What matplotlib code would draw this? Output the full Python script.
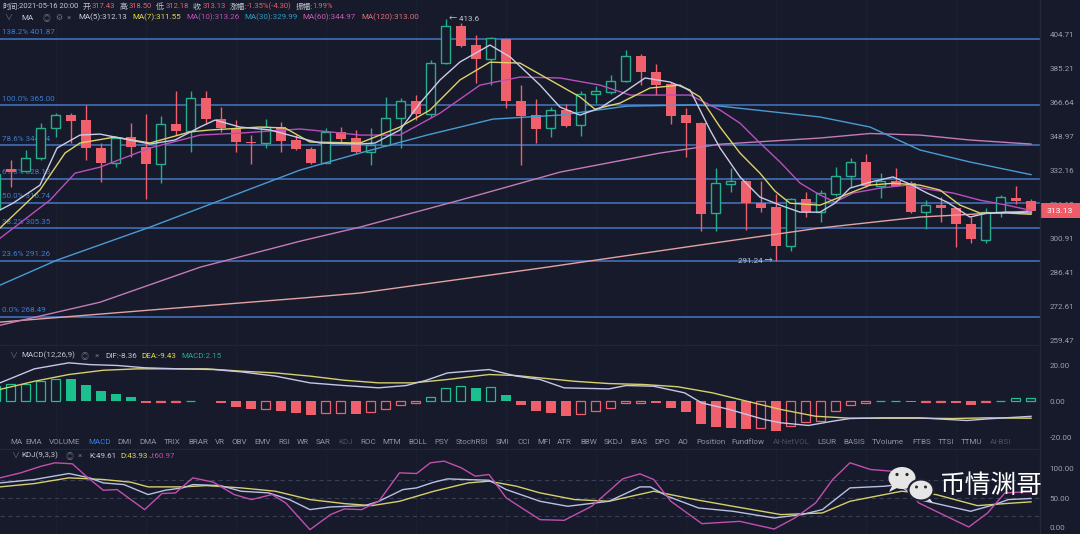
import numpy as np
import matplotlib
matplotlib.use("Agg")
import matplotlib.pyplot as plt
from matplotlib.patches import Ellipse, Rectangle, Polygon
from matplotlib.ticker import FixedLocator, NullLocator

# ---------------- data ----------------
candle_idx = list(range(-1, 69))
opens = [314.0, 332.7, 331.9, 337.9, 353.0, 359.8, 357.2, 342.8, 335.7, 348.3,
         343.3, 335.1, 355.1, 351.7, 368.6, 357.9, 353.0, 346.2, 345.3, 353.4,
         347.0, 342.5, 335.7, 351.3, 348.1, 341.2, 344.5, 358.4, 367.3, 360.2,
         388.0, 409.6, 398.3, 390.3, 401.8, 367.3, 359.8, 353.0, 362.4, 354.6,
         370.8, 372.0, 378.2, 392.2, 382.8, 376.2, 359.8, 355.5, 311.9, 325.5,
         327.1, 316.6, 314.8, 297.5, 318.5, 312.4, 320.8, 329.4, 336.2, 324.7,
         327.1, 325.9, 312.7, 315.7, 314.2, 307.1, 300.1, 312.7, 319.1, 317.43]
highs = [332.0, 337.1, 342.0, 355.5, 360.7, 360.7, 365.1, 345.5, 348.6, 355.8,
         360.2, 359.4, 372.7, 372.7, 372.7, 363.9, 357.2, 349.5, 357.7, 356.3,
         349.5, 343.6, 353.0, 353.7, 352.1, 353.0, 369.5, 368.6, 370.4, 389.7,
         413.6, 411.2, 404.1, 403.1, 402.2, 375.8, 368.2, 363.9, 365.6, 372.7,
         375.3, 381.3, 395.4, 393.0, 387.3, 377.5, 363.3, 356.0, 333.0, 333.0,
         327.5, 327.1, 320.8, 318.8, 321.6, 322.7, 333.8, 338.2, 339.8, 330.6,
         333.3, 326.8, 318.0, 319.3, 314.5, 310.4, 314.2, 320.4, 324.7, 318.50]
lows = [312.0, 324.2, 331.4, 337.1, 348.6, 345.3, 337.1, 326.3, 333.8, 338.7,
        318.5, 325.8, 349.5, 341.2, 355.5, 351.3, 341.2, 335.1, 342.8, 341.2,
        342.0, 335.1, 335.4, 345.3, 340.4, 334.6, 344.0, 342.8, 357.2, 358.9,
        387.6, 397.0, 376.7, 375.8, 363.7, 334.6, 345.6, 348.3, 353.4, 349.0,
        365.9, 370.8, 377.7, 375.8, 370.4, 355.1, 338.7, 303.9, 303.9, 321.9,
        304.5, 312.7, 291.24, 295.5, 310.4, 308.2, 319.9, 324.2, 324.2, 318.8,
        324.5, 312.2, 304.8, 308.2, 296.9, 298.9, 298.7, 310.3, 316.4, 312.18]
closes = [330.5, 331.4, 337.9, 353.0, 359.8, 356.8, 342.8, 335.7, 347.8, 343.6,
          334.9, 355.0, 351.7, 368.6, 357.9, 353.0, 345.8, 345.3, 353.7, 346.7,
          342.4, 335.4, 351.3, 347.5, 341.2, 344.5, 358.4, 367.3, 360.2, 388.3,
          409.6, 397.9, 390.3, 402.2, 367.2, 359.4, 352.6, 362.4, 354.3, 370.8,
          372.5, 378.2, 392.2, 382.8, 376.0, 359.4, 355.5, 311.6, 325.8, 327.1,
          316.6, 314.5, 297.5, 318.5, 312.4, 321.1, 329.4, 335.9, 324.5, 327.1,
          324.7, 312.7, 315.7, 314.2, 307.1, 300.4, 312.7, 319.3, 317.7, 313.13]

ma5_x = [-0.73, 0.13, 1.93, 3.07, 4.6, 5.93, 7.27, 9.27, 10.93, 12.6, 13.6, 15.27, 17.27, 19.27, 20.6,
         23.27, 24.27, 25.93, 27.27, 28.6, 29.93, 31.93, 33.27, 35.27, 36.6, 37.93, 39.27, 40.6, 42.27,
         43.93, 45.27, 46.6, 47.27, 48.6, 49.93, 51.27, 52.6, 53.93, 54.93, 55.93, 57.27, 58.8, 59.93,
         61.07, 62.4, 63.93, 65.07, 66.4, 68]
ma5_v = [313.5, 316.6, 325.0, 343.0, 349.5, 350.0, 348.0, 345.0, 347.0, 353.6, 357.2, 353.6, 352.1, 348.0,
         345.5, 345.0, 345.5, 352.1, 366.1, 378.6, 388.6, 398.3, 391.5, 375.8, 364.0, 359.8, 363.5, 370.4,
         379.7, 377.5, 373.1, 352.1, 343.0, 328.9, 319.4, 315.7, 312.5, 312.5, 316.6, 323.6, 326.4, 328.9,
         325.5, 321.3, 317.1, 310.3, 312.1, 312.5, 312.13]
ma7_x = [-0.73, 1.93, 3.6, 4.6, 6.93, 9.27, 11.93, 13.27, 16.6, 18.27, 19.93, 23.27, 25.93, 27.93, 29.93,
         31.93, 33.93, 35.93, 37.93, 38.93, 40.6, 42.6, 44.6, 45.93, 47.27, 48.6, 49.93, 50.93, 51.93,
         53.93, 55.93, 57.27, 58.8, 60.6, 61.93, 63.27, 64.6, 66.4, 68]
ma7_v = [305.4, 322.7, 340.5, 345.5, 348.5, 345.5, 351.1, 352.1, 353.6, 353.1, 346.0, 345.5, 353.6, 362.4,
         378.6, 388.5, 388.0, 378.6, 369.4, 362.9, 366.1, 374.2, 375.8, 369.4, 353.6, 340.5, 330.7, 322.2,
         316.6, 315.7, 321.3, 325.0, 325.9, 325.0, 322.7, 315.7, 312.1, 312.1, 311.55]
ma10_x = [-0.73, 2.6, 4.27, 5.93, 9.27, 12.6, 15.27, 19.27, 21.27, 23.27, 25.93, 28.6, 31.27, 33.93, 36.6,
          39.27, 41.27, 43.27, 45.27, 47.27, 48.6, 49.93, 51.27, 52.6, 53.93, 54.93, 56.13, 57.93, 59.73,
          61.47, 62.8, 64.6, 66.4, 68]
ma10_v = [300.9, 318.0, 330.7, 333.6, 343.0, 349.5, 350.5, 352.6, 351.1, 349.5, 349.5, 360.8, 375.8, 380.2,
          379.7, 375.8, 370.4, 370.4, 370.4, 362.4, 355.6, 345.5, 336.1, 326.0, 320.4, 317.1, 321.3, 323.6,
          325.0, 322.7, 321.3, 318.0, 315.7, 313.26]
ma30_x = [-0.73, 3.07, 9.27, 19.27, 23.27, 27.73, 32.13, 36.6, 41.07, 45.47, 47.27, 53.93, 57.27, 60.6, 63.93, 68]
ma30_v = [281.1, 291.5, 305.8, 332.2, 340.5, 349.5, 357.7, 359.8, 364.5, 365.1, 364.5, 358.8, 353.6, 342.0,
          336.1, 329.99]
ma60_x = [-0.73, 5.93, 12.6, 19.27, 23.27, 29.93, 36.6, 43.27, 47.27, 53.93, 57.27, 60.6, 63.93, 68]
ma60_v = [265.2, 274.2, 288.5, 299.6, 305.8, 318.0, 331.2, 340.5, 344.9, 348.0, 350.3, 349.5, 347.0, 344.97]
ma120_x = [-0.73, 9.27, 19.27, 23.27, 35.27, 47.27, 53.93, 60.6, 68]
ma120_v = [266.4, 271.1, 275.8, 277.9, 288.1, 299.2, 305.4, 310.3, 313.0]

fib_ratios = [1.382, 1.0, 0.786, 0.618, 0.5, 0.382, 0.236, 0.0]
fib_values = [401.87, 365.00, 344.34, 328.13, 316.74, 305.35, 291.26, 268.49]
price_ticks = [404.71, 385.21, 366.64, 348.97, 332.16, 316.15, 300.91, 286.41, 272.61, 259.47]

macd_hist = [8.6, 9.6, 10.1, 11.8, 12.8, 12.4, 9.2, 5.8, 4.3, 2.4,
             -0.7, -0.5, -0.5, 0.5, 0.4, -0.8, -3.0, -4.5, -4.2, -5.1,
             -6.4, -7.7, -6.4, -6.4, -6.8, -6.0, -4.1, -1.7, -0.8, 2.5,
             7.7, 8.6, 7.7, 8.3, 3.4, -1.7, -5.4, -6.4, -7.9, -6.8,
             -5.4, -3.6, -0.8, -0.6, -1.1, -3.6, -6.0, -12.4, -14.3, -14.8,
             -15.4, -15.2, -16.7, -13.9, -11.6, -11.1, -5.1, -1.7, -0.6, 0.5,
             0.5, -0.5, -0.5, -0.5, -0.7, -1.7, -0.5, 0.5, 1.8, 2.15]
dif_x = [-0.73, 1.56, 3.86, 5.23, 7.07, 8.91, 11.2, 13.5, 15.34, 17.63, 19.93, 22.2, 24.5, 26.35, 27.7,
         29.1, 31.87, 33.7, 35.27, 36.87, 39.86, 41.0, 42.84, 44.9, 46.05, 47.9, 50.19, 51.33, 53.17,
         54.78, 55.93, 58.23, 60.52, 63.73, 65.11, 68]
dif_v = [10.5, 18.4, 21.8, 20.8, 20.3, 19.0, 18.4, 18.0, 16.7, 14.3, 10.5, 9.0, 7.7, 9.0, 12.0, 16.1, 18.0,
         14.3, 12.4, 7.7, 7.1, 9.0, 8.6, 4.9, -0.8, -4.5, -10.1, -12.0, -13.5, -11.1, -9.6, -9.2, -9.2,
         -10.7, -9.8, -8.36]
dea_x = [-0.73, 1.56, 3.86, 6.15, 8.45, 10.75, 13.04, 15.34, 17.63, 19.93, 22.2, 24.5, 26.8, 29.1, 31.87,
         33.7, 35.27, 37.56, 39.86, 42.15, 44.45, 46.75, 49.04, 51.33, 53.63, 55.93, 58.23, 60.52, 62.81,
         65.11, 68]
dea_v = [6.8, 11.4, 15.2, 17.6, 18.4, 18.4, 18.4, 17.1, 16.1, 14.3, 12.0, 10.5, 10.5, 12.4, 15.2, 14.6,
         13.3, 11.4, 10.1, 9.6, 8.3, 4.9, 0.2, -4.5, -8.3, -9.4, -9.4, -9.4, -9.6, -9.2, -9.43]

kdj_k_x = [-0.73, 1.56, 3.86, 5.24, 6.15, 7.53, 9.14, 10.29, 11.43, 12.12, 13.96, 15.34, 17.17, 18.55,
           19.93, 21.3, 23.6, 24.52, 26.13, 27.04, 28.19, 29.11, 30.26, 31.87, 33.01, 35.27, 37.11, 39.86,
           41.93, 42.62, 43.76, 45.83, 48.13, 50.88, 52.72, 54.09, 55.93, 58.23, 59.15, 60.52, 63.97,
           65.57, 66.49, 68]
kdj_k_v = [75.8, 81.5, 91.6, 84.3, 75.8, 73.0, 56.2, 63.5, 67.4, 73.0, 71.3, 61.8, 59.0, 47.8, 30.9, 35.4,
           37.6, 44.9, 64.6, 67.4, 77.0, 82.6, 81.5, 80.3, 64.6, 44.9, 36.5, 44.9, 69.1, 69.1, 53.4, 33.7,
           28.1, 16.9, 22.5, 30.9, 67.4, 70.2, 73.0, 47.8, 28.1, 39.3, 47.8, 49.61]
kdj_d_x = [-0.73, 1.56, 3.86, 6.15, 7.99, 9.14, 11.43, 13.04, 15.34, 17.63, 19.93, 22.22, 24.06, 25.9,
           28.19, 30.49, 31.87, 33.7, 35.27, 37.57, 39.86, 42.85, 45.6, 48.13, 51.34, 54.09, 55.93, 58.23,
           59.38, 61.67, 64.43, 66.26, 68]
kdj_d_v = [69.1, 74.7, 84.3, 81.5, 77.0, 69.1, 69.1, 71.3, 67.4, 61.8, 47.8, 41.0, 37.6, 44.9, 61.8, 75.8,
           78.7, 70.2, 59.0, 47.8, 44.9, 61.8, 47.8, 36.5, 22.5, 25.3, 44.9, 56.2, 61.8, 56.2, 37.6, 41.0,
           43.93]
kdj_j_x = [-0.73, 0.64, 2.02, 2.94, 4.09, 5.01, 6.15, 7.07, 8.91, 10.06, 10.97, 12.12, 13.5, 14.88, 16.03,
           17.4, 18.32, 19.93, 21.3, 22.22, 23.37, 24.52, 25.9, 27.04, 27.96, 28.88, 30.03, 30.95, 31.87,
           33.01, 35.27, 36.88, 38.71, 40.78, 41.93, 42.85, 43.99, 46.06, 48.58, 50.88, 52.26, 53.64,
           54.78, 55.93, 57.31, 58.69, 60.52, 62.13, 63.85, 65.11, 66.26, 68]
kdj_j_v = [84.3, 92.7, 103.9, 109.6, 107.9, 87.1, 63.5, 64.6, 30.9, 57.9, 59.0, 84.3, 77.0, 56.2, 47.8,
           56.2, 42.1, -2.8, 22.5, 32.0, 30.9, 44.9, 92.7, 91.6, 109.6, 112.4, 101.0, 87.1, 89.9, 50.6,
           14.0, 12.9, 36.5, 82.6, 91.0, 81.5, 44.9, 7.3, 11.2, -1.7, 16.9, 42.1, 81.5, 109.6, 98.3, 95.5,
           42.1, 22.5, 1.7, 25.3, 59.0, 60.97]

tab_items = ["MA", "EMA", "VOLUME", "MACD", "DMI", "DMA", "TRIX", "BRAR", "VR", "OBV", "EMV", "RSI",
             "WR", "SAR", "KDJ", "ROC", "MTM", "BOLL", "PSY", "StochRSI", "SMI", "CCI", "MFI", "ATR",
             "BBW", "SKDJ", "BIAS", "DPO", "AO", "Position", "Fundflow", "AI-NetVOL", "LSUR", "BASIS",
             "TVolume", "FTBS", "TTSI", "TTMU", "AI-BSI"]

# ---------------- style ----------------
W, H = 1080, 534
BG = "#161a2a"
RED = "#f0606c"
GREEN = "#26ad8b"
GREEN_BAR = "#1cc08f"
FIB = "#4677c2"
FIB_TXT = "#3f7cd0"
TICK = "#9ba1ad"
TXT = "#c3c7d1"
DIM = "#6d7383"
YEL = "#e0d94c"
FONTS = ["Roboto", "Noto Sans CJK SC", "DejaVu Sans"]
plt.rcParams["font.family"] = FONTS
FS = 5.8

fig = plt.figure(figsize=(W / 100, H / 100), dpi=100, facecolor=BG)


def px_axes(x0, y0, x1, y1, z=1):
    a = fig.add_axes([x0 / W, 1 - y1 / H, (x1 - x0) / W, (y1 - y0) / H], zorder=z)
    a.set_facecolor(BG)
    for s in a.spines.values():
        s.set_visible(False)
    a.set_xlim(-0.733, 68.6)
    a.set_xticks([])
    a.yaxis.tick_right()
    a.tick_params(axis="y", length=0, pad=7, labelsize=FS, labelcolor=TICK)
    for k in range(3, 68, 6):
        a.axvline(k, color="#1b2031", lw=0.8, zorder=0)
    return a


ax = px_axes(0, 0, 1040, 345)
axm = px_axes(0, 345, 1040, 440)
axk = px_axes(0, 449, 1040, 534)

# ---------------- main price panel ----------------
ax.set_yscale("log")
ax.set_ylim(257.7, 425.2)
ax.yaxis.set_major_locator(FixedLocator(price_ticks))
ax.yaxis.set_minor_locator(NullLocator())
ax.set_yticklabels([f"{v:.2f}" for v in price_ticks])

for r, v in zip(fib_ratios, fib_values):
    ax.axhline(v, color=FIB, lw=1.1, zorder=1)
    ax.annotate(f"{r * 100:.1f}% {v:.2f}", xy=(0, v), xycoords=("axes fraction", "data"),
                xytext=(2, 6.5), textcoords="offset pixels", va="center", ha="left",
                fontsize=FS, color=FIB_TXT, zorder=1.5)

x = np.array(candle_idx, dtype=float)
o = np.array(opens); h = np.array(highs); l = np.array(lows); c = np.array(closes)
up = c >= o
body_lo = np.minimum(o, c)
body_h = np.maximum(np.abs(c - o), o * 0.0025)
ax.vlines(x[up], l[up], h[up], color=GREEN, lw=1, zorder=3)
ax.vlines(x[~up], l[~up], h[~up], color=RED, lw=1, zorder=3)
ax.bar(x[~up], body_h[~up], bottom=body_lo[~up], width=0.65, color=RED, zorder=3.5)
ax.bar(x[up], body_h[up], bottom=body_lo[up], width=0.6, facecolor=BG, edgecolor=GREEN,
       linewidth=1, zorder=3.5)

for xs, vs, col in [(ma120_x, ma120_v, "#e3a2a4"), (ma60_x, ma60_v, "#c47bb7"),
                    (ma30_x, ma30_v, "#4a9bd4"), (ma10_x, ma10_v, "#b94fbf"),
                    (ma7_x, ma7_v, "#ddd36a"), (ma5_x, ma5_v, "#c9cbe8")]:
    ax.plot(xs, vs, color=col, lw=1.0, zorder=4)

hi_i = int(np.argmax(h)); lo_i = int(np.argmin(l))
ax.annotate(f"← {h[hi_i]:.1f}", xy=(x[hi_i], h[hi_i]), xytext=(3, 0), textcoords="offset pixels",
            va="center", ha="left", fontsize=FS, color=TXT, zorder=6)
ax.annotate(f"{l[lo_i]:.2f} →", xy=(x[lo_i], l[lo_i]), xytext=(-3, 0), textcoords="offset pixels",
            va="center", ha="right", fontsize=FS, color=TXT, zorder=6)

# ---------------- MACD panel ----------------
axm.set_ylim(-21.69, 31.83)
axm.yaxis.set_major_locator(FixedLocator([20, 0, -20]))
axm.set_yticklabels(["20.00", "0.00", "-20.00"])
prev = None
for xi, v in zip(x, macd_hist):
    col = GREEN_BAR if v >= 0 else RED
    hollow = prev is None or v >= prev
    if hollow:
        axm.bar(xi, v, width=0.6, facecolor=BG, edgecolor=col, linewidth=0.9, zorder=2)
    else:
        axm.bar(xi, v, width=0.65, color=col, zorder=2)
    prev = v
axm.plot(dea_x, dea_v, color="#d6cf6b", lw=1.0, zorder=3)
axm.plot(dif_x, dif_v, color="#c6c6e8", lw=1.0, zorder=3)

# ---------------- KDJ panel ----------------
axk.set_ylim(-10.1, 132.8)
axk.yaxis.set_major_locator(FixedLocator([100, 50, 0]))
axk.set_yticklabels(["100.00", "50.00", "0.00"])
for lv in (80, 50, 20):
    axk.axhline(lv, color="#394056", lw=0.8, ls=(0, (4, 3)), zorder=1)
axk.plot(kdj_d_x, kdj_d_v, color="#d6cf6b", lw=1.0, zorder=3)
axk.plot(kdj_k_x, kdj_k_v, color="#b9c0e6", lw=1.0, zorder=3)
axk.plot(kdj_j_x, kdj_j_v, color="#c24fb0", lw=1.0, zorder=3)

# ---------------- overlay (text, separators, watermark) ----------------
ov = fig.add_axes([0, 0, 1, 1], zorder=20)
ov.set_xlim(0, W); ov.set_ylim(H, 0); ov.axis("off"); ov.patch.set_alpha(0)
ov.plot([1040, 1040], [0, H], color="#23283a", lw=1)
ov.plot([0, 1040], [345, 345], color="#20253a", lw=1)
ov.plot([0, 1040], [449, 449], color="#20253a", lw=1)

# current price box
yp = H - ax.transData.transform((0, closes[-1]))[1]
ov.add_patch(Rectangle((1041, yp - 7.5), 39, 15, facecolor="#ef5b66", edgecolor="none"))
ov.text(1060, yp, f"{closes[-1]:.2f}", color="white", fontsize=FS + 0.3, ha="center", va="center")

renderer = fig.canvas.get_renderer()


def seq(x0, y0, parts, size=FS, gap=0.0):
    xx = x0
    for s, col in parts:
        t = ov.text(xx, y0, s, color=col, fontsize=size, ha="left", va="center")
        bb = t.get_window_extent(renderer=renderer)
        xx = bb.x1 + gap
    return xx


REDT = "#e9606a"
HS = 5.5
xx = 2
for parts in [[("时间:", TXT), ("2021-05-16 20:00", TXT)],
              [("开:", TXT), ("317.43", REDT)],
              [("高:", TXT), ("318.50", REDT)],
              [("低:", TXT), ("312.18", REDT)],
              [("收:", TXT), ("313.13", REDT)],
              [("涨幅:", TXT), ("-1.35%(-4.30)", REDT)],
              [("振幅:", TXT), ("1.99%", REDT)]]:
    xx = seq(xx, 6, parts, size=HS) + 4

ov.text(4, 17.5, "∨", color=DIM, fontsize=FS, va="center")
ov.text(21, 17.5, "MA", color=TXT, fontsize=FS, va="center")
ov.text(43, 17.5, "◎", color=DIM, fontsize=FS, va="center")
ov.text(55, 17.5, "⚙", color=DIM, fontsize=FS, va="center")
ov.text(67, 17.5, "×", color=DIM, fontsize=FS, va="center")
ma_labels = [("MA(5):312.13", "#c9ccd6", 78), ("MA(7):311.55", YEL, 132),
             ("MA(10):313.26", "#c24fb8", 186), ("MA(30):329.99", "#2f9cc2", 244),
             ("MA(60):344.97", "#c45fb2", 302), ("MA(120):313.00", "#e0707a", 361)]
for s, col, mx in ma_labels:
    ov.text(mx, 17.5, s, color=col, fontsize=FS, va="center")

# MACD header
ov.text(9, 355.5, "∨", color=DIM, fontsize=FS, va="center")
ov.text(21, 355.5, "MACD(12,26,9)", color=TXT, fontsize=FS, va="center")
ov.text(81, 355.5, "◎", color=DIM, fontsize=FS, va="center")
ov.text(95, 355.5, "×", color=DIM, fontsize=FS, va="center")
ov.text(105, 355.5, "DIF:-8.36", color=TXT, fontsize=FS, va="center")
ov.text(141, 355.5, "DEA:-9.43", color=YEL, fontsize=FS, va="center")
ov.text(181, 355.5, "MACD:2.15", color="#1fae8a", fontsize=FS, va="center")

# tab bar
tab_x = [10, 25, 49, 88, 117, 139, 164, 188, 215, 231, 254, 278, 297, 316, 338, 360, 382, 408, 434,
         456, 496, 517, 537, 557, 580, 604, 630, 654, 678, 696, 731, 773, 817, 843, 872, 912, 938, 961, 990]
for s, tx in zip(tab_items, tab_x):
    col = "#8e95a5"
    if s == "MACD":
        col = "#3b7de0"
    elif s in ("KDJ", "AI-NetVOL", "AI-BSI"):
        col = "#4b5163"
    ov.text(tx, 441.5, s, color=col, fontsize=FS, va="center")

# KDJ header
ov.text(11, 455.5, "∨", color=DIM, fontsize=FS, va="center")
ov.text(21, 455.5, "KDJ(9,3,3)", color=TXT, fontsize=FS, va="center")
ov.text(66, 455.5, "◎", color=DIM, fontsize=FS, va="center")
ov.text(78, 455.5, "×", color=DIM, fontsize=FS, va="center")
ov.text(89, 455.5, "K:49.61", color=TXT, fontsize=FS, va="center")
ov.text(120, 455.5, "D:43.93", color=YEL, fontsize=FS, va="center")
ov.text(149, 455.5, "J:60.97", color="#c8509e", fontsize=FS, va="center")

# watermark (WeChat-like bubbles + name)
ov.add_patch(Polygon([[893, 484], [889, 492], [899, 487]], closed=True, facecolor="#e6e6e6",
                     edgecolor="none", zorder=21))
ov.add_patch(Ellipse((902, 478), 27, 22, facecolor="#e6e6e6", edgecolor="none", zorder=21))
for ex in (897, 907):
    ov.add_patch(Ellipse((ex, 474.5), 3.2, 3.2, facecolor="#2a2a2a", edgecolor="none", zorder=22))
ov.add_patch(Polygon([[928, 496], [933, 503], [923, 499]], closed=True, facecolor="#e6e6e6",
                     edgecolor="none", zorder=23))
ov.add_patch(Ellipse((921, 490), 25, 21, facecolor="#e6e6e6", edgecolor="#1c2030", lw=1.5, zorder=23))
for ex in (916.5, 925.5):
    ov.add_patch(Ellipse((ex, 487), 3.0, 3.0, facecolor="#2a2a2a", edgecolor="none", zorder=24))
ov.text(939, 486, "币情渊哥", color="white", fontsize=18.5, ha="left", va="center",
        family=["Noto Sans CJK SC", "DejaVu Sans"], zorder=24)

fig.savefig("out.png", dpi=100, facecolor=BG)
